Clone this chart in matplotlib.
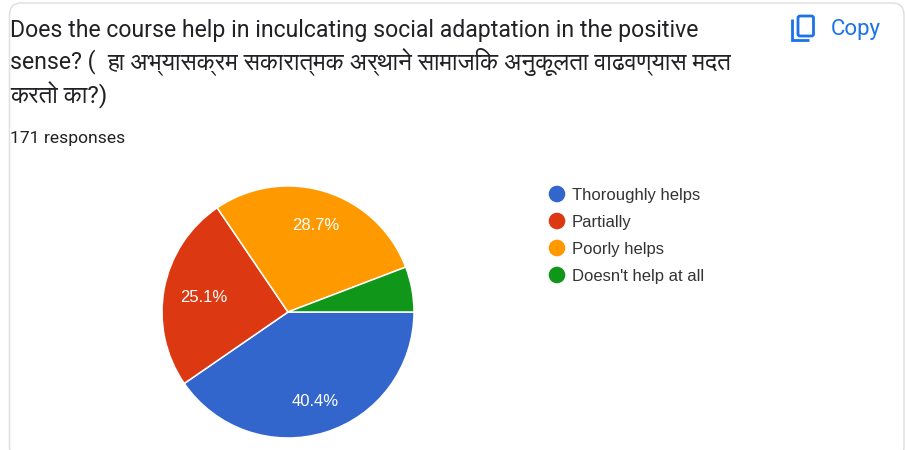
import matplotlib
matplotlib.use('Agg')
import numpy as np
import matplotlib.pyplot as plt
from matplotlib.patches import FancyBboxPatch, PathPatch, Circle
from matplotlib.path import Path

# chart values
labels = ['Thoroughly helps', 'Partially', 'Poorly helps', "Doesn't help at all"]
values = [40.4, 25.1, 28.7, 5.8]
colors = ['#3366cc', '#dc3912', '#ff9900', '#109618']
pct_labels = ['40.4%', '25.1%', '28.7%', '']

title_line1 = 'Does the course help in inculcating social adaptation in the positive'
title_line2a = 'sense? ('
title_line2b = 'हा अभ्यासक्रम सकारात्मक अर्थाने सामाजिक अनुकूलता वाढवण्यास मदत'
title_line3 = 'करतो का?)'
responses = '171 responses'

# FreeSans is the one with usable devanagari glyphs
plt.rcParams['font.family'] = ['Roboto', 'FreeSans', 'DejaVu Sans']
chart_font = ['Liberation Sans', 'DejaVu Sans']

W, H = 905, 450
fig = plt.figure(figsize=(W / 100, H / 100), dpi=100)

# background layer in pixel coordinates
bg = fig.add_axes([0, 0, 1, 1])
bg.set_xlim(0, W)
bg.set_ylim(H, 0)
bg.axis('off')

card = FancyBboxPatch((9.5, 3), 894.5, 456, boxstyle='round,pad=0,rounding_size=12',
                      fc='white', ec='#e0e0e0', lw=1.1)
bg.add_patch(card)

bg.text(10, 30, title_line1, fontsize=16.6, color='#202124', va='center', ha='left')
bg.text(10, 62, title_line2a, fontsize=16.6, color='#202124', va='center', ha='left')
bg.text(107, 62, title_line2b, fontsize=17.5, color='#202124', va='center', ha='left')
bg.text(10, 95, title_line3, fontsize=17.5, color='#202124', va='center', ha='left')
bg.text(10, 138, responses, fontsize=12.6, color='#202124', va='center', ha='left')

# copy icon
front = FancyBboxPatch((798, 16), 15.5, 20, boxstyle='round,pad=0,rounding_size=2',
                       fc='none', ec='#1a73e8', lw=2)
bg.add_patch(front)
back = Path([(792, 19), (792, 40), (809, 40)])
bg.add_patch(PathPatch(back, fc='none', ec='#1a73e8', lw=2))
bg.text(831, 29.5, 'Copy', fontsize=16, color='#1a73e8', va='center', ha='left')

# legend
leg_y = [194, 221, 248, 275]
for lab, c, y in zip(labels, colors, leg_y):
    bg.add_patch(Circle((557, y), 8.3, fc=c, ec='none'))
    bg.text(572, y, lab, fontsize=12, color='#333333', va='center_baseline', ha='left',
            family=chart_font)

# pie
ax = fig.add_axes([162 / W, 1 - 438 / H, 252 / W, 252 / H])
wedges, _ = ax.pie(values, colors=colors, startangle=0, counterclock=False, radius=1,
                   wedgeprops={'edgecolor': 'white', 'linewidth': 1.1})
ax.set_xlim(-1, 1)
ax.set_ylim(-1, 1)
label_r = [0.73, 0.68, 0.73, 0]
for w, txt, r in zip(wedges, pct_labels, label_r):
    if not txt:
        continue
    a = np.radians((w.theta1 + w.theta2) / 2)
    ax.text(r * np.cos(a), r * np.sin(a), txt, color='white', fontsize=12,
            ha='center', va='center_baseline', family=chart_font)

fig.savefig('out.png', dpi=100)
